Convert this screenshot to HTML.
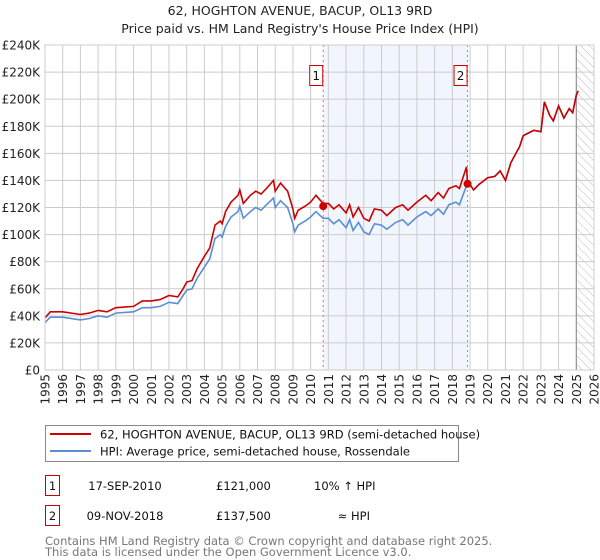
<!DOCTYPE html>
<html><head><meta charset="utf-8"><style>
body{margin:0;background:#fff;width:600px;height:560px;overflow:hidden;font-family:"DejaVu Sans","Liberation Sans",sans-serif}
svg{position:absolute;left:0;top:0}
</style></head><body>
<svg id="c" width="600" height="560" font-family="DejaVu Sans, Liberation Sans, sans-serif">
<text x="300" y="15" text-anchor="middle" font-size="12.5" fill="#222">62, HOGHTON AVENUE, BACUP, OL13 9RD</text>
<text x="300" y="33" text-anchor="middle" font-size="12.5" fill="#222">Price paid vs. HM Land Registry's House Price Index (HPI)</text>
<g id="grid"></g>
<g id="series"></g>
<g id="axes"></g>
<g>
<rect x="45.5" y="425.5" width="413" height="36" fill="#fff" stroke="#888"/>
<line x1="50" y1="434" x2="91" y2="434" stroke="#cc0000" stroke-width="2"/>
<text x="100" y="438.5" font-size="11.5" fill="#111">62, HOGHTON AVENUE, BACUP, OL13 9RD (semi-detached house)</text>
<line x1="50" y1="451" x2="91" y2="451" stroke="#5b8fd4" stroke-width="2"/>
<text x="100" y="455.5" font-size="11.5" fill="#111">HPI: Average price, semi-detached house, Rossendale</text>
</g>
<g font-size="11.5" fill="#111">
<rect x="45.5" y="475.5" width="14" height="20" fill="#fff" stroke="#cc0000"/>
<text x="52.5" y="490" text-anchor="middle">1</text>
<text x="125" y="490" text-anchor="middle">17-SEP-2010</text>
<text x="216" y="490">£121,000</text>
<text x="314" y="490">10% ↑ HPI</text>
<rect x="45.5" y="505.5" width="14" height="20" fill="#fff" stroke="#cc0000"/>
<text x="52.5" y="520" text-anchor="middle">2</text>
<text x="125" y="520" text-anchor="middle">09-NOV-2018</text>
<text x="216" y="520">£137,500</text>
<text x="370" y="520" text-anchor="end">≈ HPI</text>
</g>
<text x="45" y="545" font-size="11.5" fill="#777">Contains HM Land Registry data © Crown copyright and database right 2025.</text>
<text x="45" y="556" font-size="11.5" fill="#777">This data is licensed under the Open Government Licence v3.0.</text>
</svg>
<script>
const years=[1995.0,1995.3,1996,1997,1997.5,1998,1998.5,1999,2000,2000.5,2001,2001.5,2002,2002.5,2002.8,2003,2003.3,2003.6,2004,2004.3,2004.6,2004.9,2005,2005.2,2005.5,2005.9,2006.0,2006.2,2006.6,2006.9,2007.2,2007.5,2007.9,2008.0,2008.3,2008.7,2009.0,2009.1,2009.3,2009.7,2010,2010.3,2010.7,2011,2011.3,2011.6,2012,2012.2,2012.4,2012.7,2013,2013.3,2013.6,2014,2014.3,2014.8,2015.2,2015.5,2016,2016.5,2016.8,2017.2,2017.5,2017.8,2018.2,2018.4,2018.8,2018.86,2019.0,2019.2,2019.5,2020,2020.4,2020.7,2021,2021.3,2021.8,2022,2022.3,2022.6,2023,2023.2,2023.5,2023.7,2024,2024.3,2024.6,2024.8,2025.0,2025.1];
const hpiValues=[35,39,39,37,38,40,39,42,43,46,46,47,50,49,55,59,60,68,76,82,97,100,98,106,113,117,121,112,117,120,118,122,127,120,125,120,108,102,107,110,113,117,112,112,108,111,105,111,103,109,102,100,108,107,104,109,111,107,113,117,114,119,115,122,124,122,136,137,137,133,137,142,143,147,140,153,165,173,175,177,176,198,188,184,195,186,193,190,203,206];
const priceValues=[38.5,43,43,41,42,44,43,46,47,51,51,52,55,54,60,65,66,75,84,90,107,110,108,117,124,129,133,123,129,132,130,134,140,132,138,132,119,112,118,121,124,129,123,123,119,122,116,122,113,120,112,110,119,118,114,120,122,118,124,129,125,131,127,134,136,134,150,137.5,137,133,137,142,143,147,140,153,165,173,175,177,176,198,188,184,195,186,193,190,203,206];
const yTicks=[0,20,40,60,80,100,120,140,160,180,200,220,240];
const xTicks=[1995,1996,1997,1998,1999,2000,2001,2002,2003,2004,2005,2006,2007,2008,2009,2010,2011,2012,2013,2014,2015,2016,2017,2018,2019,2020,2021,2022,2023,2024,2025,2026];
const saleYears=[2010.71,2018.86];
const salePrices=[121,137.5];
const saleLabels=["1","2"];
const X0=45,X1=594,Y0=370,Y1=45;
const xs=y=>X0+(y-1995)/(2026-1995)*(X1-X0);
const ys=v=>Y0-v/240*(Y0-Y1);
const NS="http://www.w3.org/2000/svg";
function mk(t,a,p){const e=document.createElementNS(NS,t);for(const k in a)e.setAttribute(k,a[k]);p.appendChild(e);return e;}
const grid=document.getElementById('grid'),ser=document.getElementById('series'),ax=document.getElementById('axes');
mk('rect',{x:X0,y:Y1,width:X1-X0,height:Y0-Y1,fill:'#fff'},grid);
const shade=mk('rect',{x:xs(saleYears[0]),y:Y1,width:xs(saleYears[1])-xs(saleYears[0]),height:Y0-Y1,fill:'#eef3fd',opacity:0.8},grid);


const defs=mk('defs',{},grid);
const pat=mk('pattern',{id:'h',width:6,height:6,patternUnits:'userSpaceOnUse',patternTransform:'rotate(-45)'},defs);
mk('line',{x1:0,y1:0,x2:0,y2:6,stroke:'#bbb','stroke-width':1},pat);
const hatch=mk('rect',{x:xs(2025),y:Y1,width:X1-xs(2025),height:Y0-Y1,fill:'url(#h)'},grid);


yTicks.forEach(v=>{mk('line',{x1:X0,x2:X1,y1:ys(v),y2:ys(v),stroke:'#ccc'},grid);
const t=mk('text',{x:X0-5,y:ys(v)+4.5,'text-anchor':'end','font-size':12,fill:'#222'},ax);t.textContent=v===0?'£0':'£'+v+'K';

});
xTicks.forEach(y=>{mk('line',{x1:xs(y),x2:xs(y),y1:Y1,y2:Y0,stroke:'#ccc'},grid);
const t=mk('text',{x:0,y:0,'text-anchor':'end','font-size':12,fill:'#222',transform:`translate(${xs(y)+4.5},${Y0+4}) rotate(-90)`},ax);t.textContent=y;

});
mk('line',{x1:xs(2025),x2:xs(2025),y1:Y1,y2:Y0,stroke:'#888'},grid);
saleYears.forEach((s,i)=>{const l=mk('line',{x1:xs(s),x2:xs(s),y1:Y1,y2:Y0,stroke:'#e66','stroke-dasharray':'2,3'},grid);


const b=mk('rect',{x:xs(s)-13.5,y:65.5,width:13,height:20,fill:'#fff',stroke:'#cc0000'},ax);


const t=mk('text',{x:xs(s)-7,y:80,'text-anchor':'middle','font-size':12,fill:'#111'},ax);t.textContent=saleLabels[i];});
const pts=a=>a.map((v,i)=>xs(years[i]).toFixed(1)+','+ys(v).toFixed(1)).join(' ');
const hl=mk('polyline',{points:pts(hpiValues),fill:'none',stroke:'#5b8fd4','stroke-width':1.6},ser);


const pl=mk('polyline',{points:pts(priceValues),fill:'none',stroke:'#cc0000','stroke-width':1.6},ser);


saleYears.forEach((s,i)=>{const c=mk('circle',{cx:xs(s),cy:ys(salePrices[i]),r:4,fill:'#cc0000'},ser);

});
mk('rect',{x:X0,y:Y1,width:X1-X0,height:Y0-Y1,fill:'none',stroke:'#ccc'},ax);
</script>
</body></html>
